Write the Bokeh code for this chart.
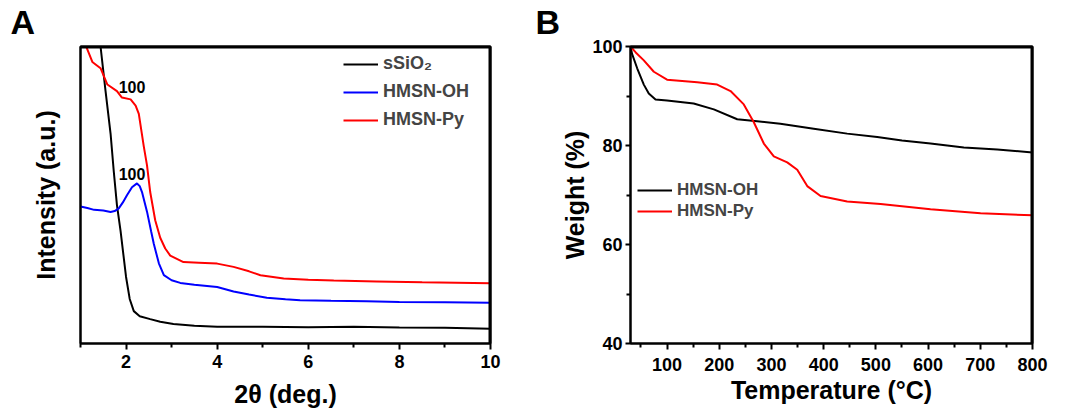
import numpy as np
from bokeh.plotting import figure
from bokeh.layouts import row
from bokeh.models import Range1d, FixedTicker, Label, Legend, Title, LinearAxis
from bokeh.embed import file_html
from bokeh.resources import INLINE

# ---------------- Panel A data (XRD, arbitrary intensity units) ----------------
sio2_x = [1.38, 1.44, 1.55, 1.66, 1.73, 1.80, 1.88, 2.00, 2.08, 2.17, 2.30, 2.53, 2.75, 3.04, 3.50, 4.00, 5.00, 6.00, 7.00, 8.00, 9.00, 10.0]
sio2_y = [110, 100, 85, 70.7, 58, 46.6, 37.8, 22.4, 15, 10.9, 9.2, 8.2, 7.3, 6.6, 6.0, 5.6, 5.6, 5.5, 5.6, 5.4, 5.3, 5.0]

oh_x = [1.0, 1.15, 1.3, 1.5, 1.66, 1.75, 1.84, 1.93, 2.02, 2.13, 2.24, 2.30, 2.35, 2.46, 2.55, 2.61, 2.72, 2.83, 3.00, 3.19, 3.50, 4.00, 4.36, 4.70, 5.09, 5.50, 5.82, 6.50, 7.28, 8.00, 9.00, 10.0]
oh_y = [46.1, 45.6, 45.0, 44.8, 44.3, 44.6, 45.5, 47.5, 49.9, 52.6, 53.9, 53.0, 51.0, 44.4, 37.8, 33.5, 27.0, 23.0, 21.3, 20.4, 19.8, 19.0, 17.5, 16.5, 15.4, 14.9, 14.6, 14.4, 14.2, 14.0, 13.9, 13.7]

py_x = [1.0, 1.13, 1.26, 1.44, 1.59, 1.80, 1.91, 2.10, 2.21, 2.28, 2.39, 2.46, 2.53, 2.64, 2.75, 2.86, 2.97, 3.26, 3.60, 4.00, 4.36, 4.70, 4.95, 5.46, 6.00, 6.56, 7.50, 8.50, 10.0]
py_y = [106, 99.8, 94.8, 92.7, 87.2, 85.0, 82.8, 82.2, 80.1, 77.3, 66.3, 60.0, 51.0, 41.5, 35.6, 32.0, 29.6, 27.4, 27.2, 26.9, 25.8, 24.3, 23.0, 21.9, 21.5, 21.2, 20.9, 20.6, 20.3]

a_xrange = (1, 10)
a_yrange = (0, 100)
a_xticks = [2, 4, 6, 8, 10]
a_xminor = [1, 3, 5, 7, 9]

# ---------------- Panel B data (TGA) ----------------
tga_oh_t = [30, 33, 42.8, 55.5, 65, 77.9, 100, 151, 189.6, 234.4, 272.7, 317, 381, 445, 502.6, 550, 604.7, 668.5, 732.5, 800]
tga_oh_w = [100, 98.5, 95.6, 92.3, 90.5, 89.3, 89.1, 88.5, 87.3, 85.3, 84.9, 84.4, 83.4, 82.4, 81.7, 81.0, 80.4, 79.6, 79.2, 78.6]

tga_py_t = [30, 40, 55.5, 74.7, 100, 157.8, 196, 221.6, 247, 266.2, 285.4, 304.5, 330.2, 349.4, 368.5, 394, 445, 509, 604.7, 700.5, 800]
tga_py_w = [100, 98.8, 97.2, 94.9, 93.3, 92.8, 92.3, 91.0, 88.3, 84.7, 80.4, 77.8, 76.6, 75.1, 71.8, 69.8, 68.7, 68.2, 67.1, 66.3, 65.9]

b_xrange = (30, 800)
b_yrange = (40, 100)
b_xticks = [100, 200, 300, 400, 500, 600, 700, 800]
b_xminor = [50, 150, 250, 350, 450, 550, 650, 750]
b_yticks = [40, 60, 80, 100]
b_yminor = [50, 70, 90]

FONT = "Liberation Sans"


def style_axis(ax, label_size="18px", title_size="25px"):
    ax.axis_line_width = 2
    ax.axis_line_color = "black"
    ax.major_tick_line_width = 2
    ax.minor_tick_line_width = 2
    ax.major_tick_in = 0
    ax.major_tick_out = 6
    ax.minor_tick_in = 0
    ax.minor_tick_out = 4
    ax.major_label_text_font = FONT
    ax.major_label_text_font_style = "bold"
    ax.major_label_text_font_size = label_size
    ax.major_label_text_color = "black"
    ax.axis_label_text_font = FONT
    ax.axis_label_text_font_style = "bold"
    ax.axis_label_text_font_size = title_size
    ax.axis_label_text_color = "black"


def edge_axis(ticks, minor):
    # plain axis line on the opposite side (ticks pointing outward, no labels)
    ax = LinearAxis(ticker=FixedTicker(ticks=ticks, minor_ticks=minor))
    ax.axis_line_width = 2
    ax.axis_line_color = "black"
    ax.major_tick_line_color = None
    ax.minor_tick_line_color = None
    ax.major_label_text_color = None
    ax.major_label_text_font_size = "1px"
    ax.major_label_standoff = 0
    return ax


def make_fig(width, height, xr, yr, ml, mr, mt, mb, letter, letter_offset, xt, xm, yt, ym):
    p = figure(width=width, height=height, output_backend="svg", toolbar_location=None,
               x_range=Range1d(*xr), y_range=Range1d(*yr),
               min_border_left=ml, min_border_right=mr, min_border_top=mt, min_border_bottom=mb)
    p.title = Title(text=letter, align="left", offset=letter_offset, standoff=0,
                    text_font=FONT, text_font_style="bold", text_font_size="34px",
                    text_color="black", text_line_height=1.0)
    p.grid.visible = False
    p.outline_line_color = "black"
    p.outline_line_width = 2
    p.outline_line_alpha = 1.0
    p.background_fill_color = "white"
    p.border_fill_color = "white"
    p.add_layout(edge_axis(xt, xm), "above")
    p.add_layout(edge_axis(yt, ym), "right")
    return p


def add_box(p, xr, yr):
    # top and right frame edges traced as many-point lines inside the frame
    n = 60
    top_x = np.linspace(xr[0], xr[1], n)
    right_y = np.linspace(yr[0], yr[1], n)
    p.line(top_x, np.full(n, yr[1]), line_color="black", line_width=4)
    p.line(np.full(n, xr[1]), right_y, line_color="black", line_width=4)


# ---------------- Panel A ----------------
pA = make_fig(530, 410, a_xrange, a_yrange, 80, 40, 41, 65, "A", -70,
              a_xticks, a_xminor, [], [])
lA1 = pA.line(sio2_x, sio2_y, line_color="black", line_width=2)
lA2 = pA.line(oh_x, oh_y, line_color="#0000ff", line_width=2)
lA3 = pA.line(py_x, py_y, line_color="#ff0000", line_width=2)
add_box(pA, a_xrange, a_yrange)

pA.below[0].ticker = FixedTicker(ticks=a_xticks, minor_ticks=a_xminor)
pA.left[0].ticker = FixedTicker(ticks=[], minor_ticks=[])
style_axis(pA.below[0])
style_axis(pA.left[0])
pA.left[0].major_tick_out = 0
pA.left[0].minor_tick_out = 0
pA.left[0].axis_label_standoff = 21
pA.below[0].major_label_standoff = 5
pA.below[0].axis_label_standoff = 9
pA.below[0].axis_label = "2θ (deg.)"
pA.left[0].axis_label = "Intensity (a.u.)"

legA = Legend(items=[("sSiO₂", [lA1]), ("HMSN-OH", [lA2]), ("HMSN-Py", [lA3])],
              location=(263, 213), border_line_color=None, background_fill_alpha=0,
              padding=0, margin=0, spacing=7, glyph_width=35, glyph_height=20,
              label_height=20, label_standoff=5,
              label_text_font=FONT, label_text_font_style="bold", label_text_font_size="18px")
pA.add_layout(legA, "center")

for yv in (86.3, 57.0):
    pA.add_layout(Label(x=2.13, y=yv, text="100", text_font=FONT, text_font_style="bold",
                        text_font_size="16px", text_align="center", text_baseline="middle",
                        text_color="black"))

# ---------------- Panel B ----------------
pB = make_fig(535, 410, b_xrange, b_yrange, 100, 33, 41, 66, "B", -95,
              b_xticks, b_xminor, b_yticks, b_yminor)
lB1 = pB.line(tga_oh_t, tga_oh_w, line_color="black", line_width=2)
lB2 = pB.line(tga_py_t, tga_py_w, line_color="#ff0000", line_width=2)
add_box(pB, b_xrange, b_yrange)
pB.below[0].ticker = FixedTicker(ticks=b_xticks, minor_ticks=b_xminor)
pB.left[0].ticker = FixedTicker(ticks=b_yticks, minor_ticks=b_yminor)
style_axis(pB.below[0])
style_axis(pB.left[0])
pB.left[0].major_tick_out = 5
pB.below[0].major_label_standoff = 8
pB.below[0].axis_label_standoff = 2
pB.left[0].major_label_standoff = 3
pB.left[0].axis_label_standoff = 0
pB.below[0].axis_label = "Temperature (°C)"
pB.left[0].axis_label = "Weight (%)"

legB = Legend(items=[("HMSN-OH", [lB1]), ("HMSN-Py", [lB2])],
              location=(7, 122), border_line_color=None, background_fill_alpha=0,
              padding=0, margin=0, spacing=1, glyph_width=35, glyph_height=20,
              label_height=20, label_standoff=5,
              label_text_font=FONT, label_text_font_style="bold", label_text_font_size="17px")
pB.add_layout(legB, "center")

layout = row(pA, pB)
open("out.html", "w").write(file_html(layout, INLINE))
